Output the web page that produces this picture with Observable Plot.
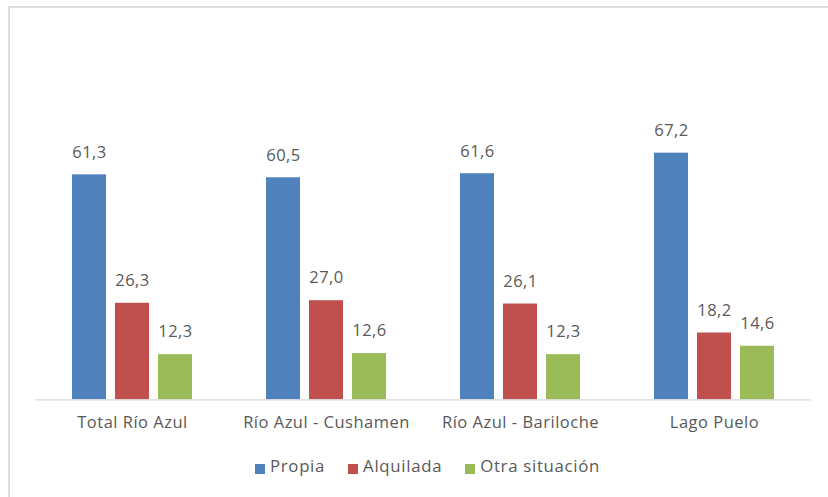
<!DOCTYPE html>
<html>
<head>
<meta charset="utf-8">
<script src="https://cdn.jsdelivr.net/npm/d3@7"></script>
<script src="https://cdn.jsdelivr.net/npm/@observablehq/plot@0.6"></script>
<style>
  html, body { margin: 0; padding: 0; background: #fff; }
  #wrap { position: relative; width: 828px; height: 497px; overflow: hidden; font-family: "Open Sans", Lato, sans-serif; }
  #frame { position: absolute; left: 8px; top: 6px; width: 900px; height: 600px; border: 2px solid #dcdcdc; box-sizing: border-box; }
  #chart { position: absolute; left: 0; top: 0; }
  #legend { position: absolute; left: 255px; top: 456px; display: flex; align-items: flex-start; font-size: 16.8px; line-height: 20px; letter-spacing: 0.7px; color: #595959; white-space: nowrap; }
  .item { display: flex; align-items: flex-start; margin-right: 23px; }
  .sw { width: 10px; height: 10px; margin-right: 5px; margin-top: 8px; }
</style>
</head>
<body>
<div id="wrap">
  <div id="frame"></div>
  <div id="chart"></div>
  <div id="legend"></div>
</div>
<script>
const categories = ["Total Río Azul", "Río Azul - Cushamen", "Río Azul - Bariloche", "Lago Puelo"];
const series = ["Propia", "Alquilada", "Otra situación"];
const colors = ["#4F81BD", "#C0504D", "#9BBB59"];
const propia = [61.3, 60.5, 61.6, 67.2];
const alquilada = [26.3, 27.0, 26.1, 18.2];
const otra = [12.3, 12.6, 12.3, 14.6];

const values = [propia, alquilada, otra];
const data = [];
categories.forEach((c, i) => series.forEach((s, j) => data.push({cat: c, serie: s, value: values[j][i]})));

const fmt = v => v.toFixed(1).replace(".", ",");

const plot = Plot.plot({
  width: 828,
  height: 497,
  marginLeft: 34,
  marginRight: 15.7,
  marginTop: 32.3,
  marginBottom: 97.7,
  style: {fontFamily: "'Open Sans', Lato, sans-serif", fontSize: "16.5px", letterSpacing: "0.5px", color: "#595959", background: "transparent"},
  fx: {domain: categories, padding: 0, label: null, axis: "bottom", tickSize: 0, tickPadding: 16},
  x: {domain: series, paddingInner: 0.2, paddingOuter: 0.846, axis: null},
  y: {domain: [0, 100], axis: null},
  color: {domain: series, range: colors},
  marks: [
    Plot.barY(data, {fx: "cat", x: "serie", y: "value", fill: "serie"}),
    Plot.text(data, {fx: "cat", x: "serie", y: "value", text: d => fmt(d.value), dy: -22.5, fill: "#595959", fontSize: 16.5}),
    Plot.ruleY([0], {stroke: "#d9d9d9", strokeWidth: 1.2})
  ]
});
document.getElementById("chart").appendChild(plot);

const legend = d3.select("#legend");
series.forEach((s, i) => {
  const it = legend.append("div").attr("class", "item");
  it.append("div").attr("class", "sw").style("background", colors[i]);
  it.append("span").text(s);
});
</script>
</body>
</html>
